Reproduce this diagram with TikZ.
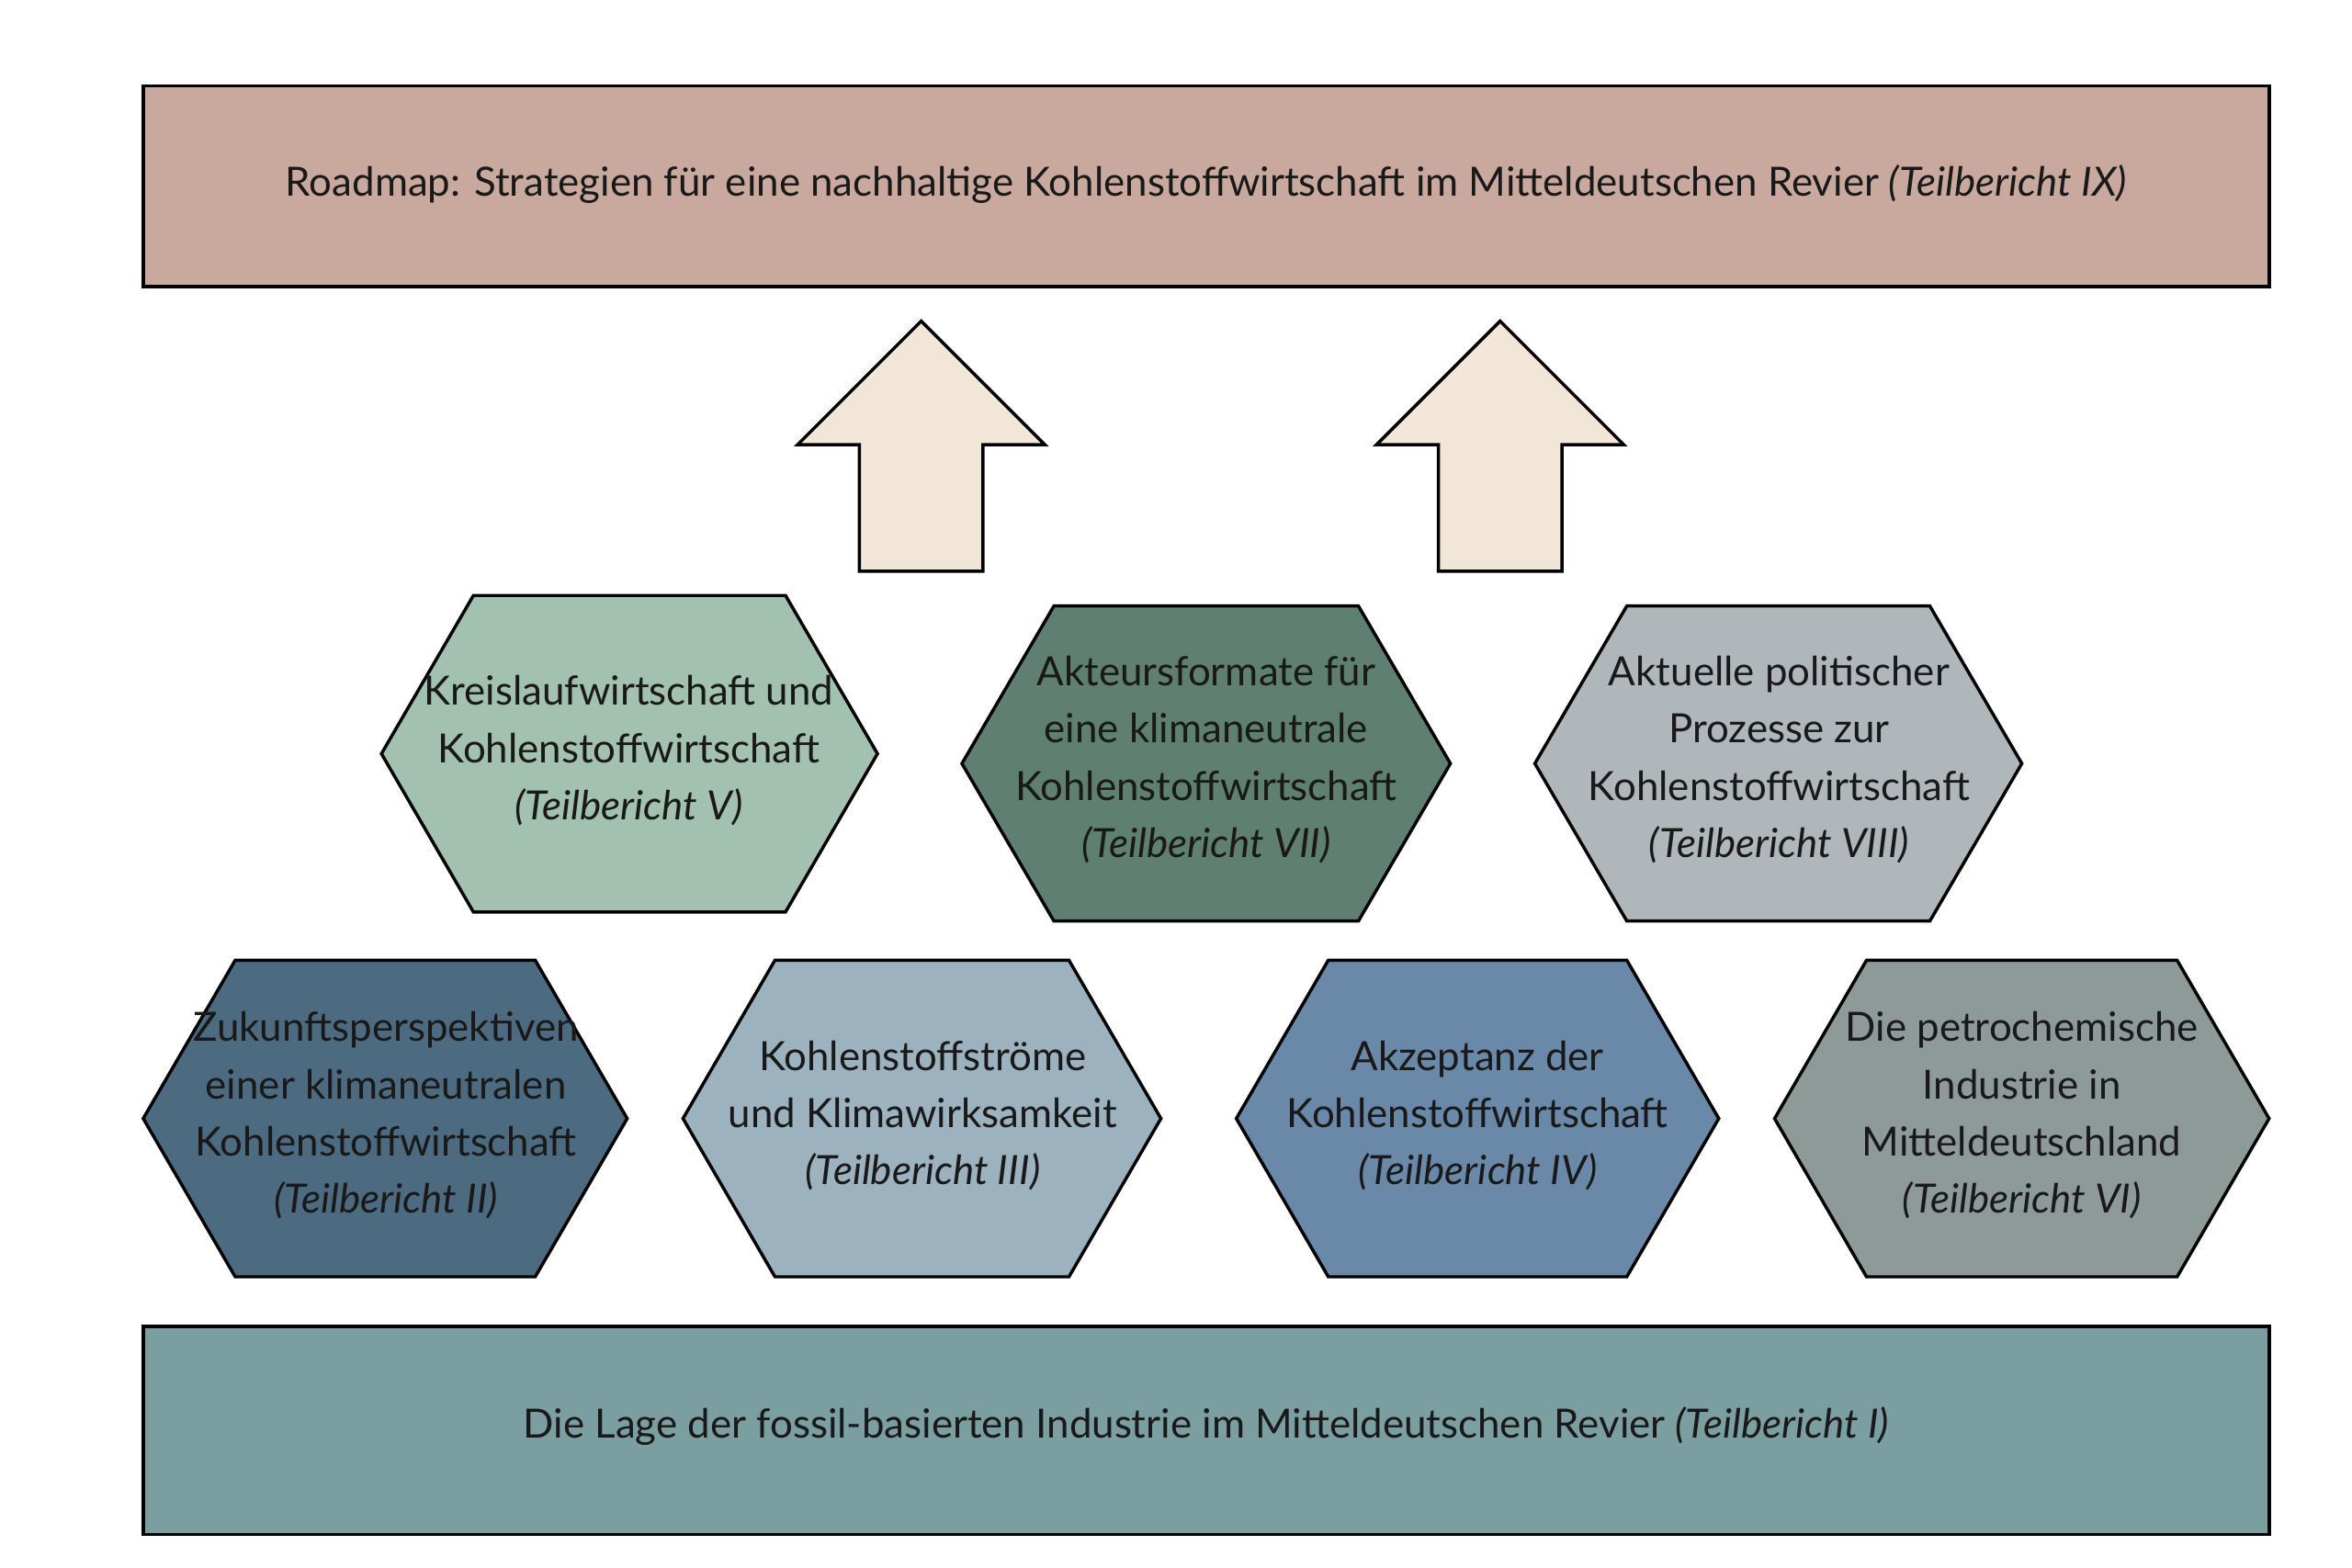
\documentclass[tikz,border=0pt]{standalone}
\usepackage{fontspec}
\setmainfont{Lato}
\definecolor{topc}{HTML}{C9A99E}
\definecolor{botc}{HTML}{7B9EA1}
\definecolor{arrowc}{HTML}{F2E6D8}
\definecolor{hv}{HTML}{A3C1B0}
\definecolor{hvii}{HTML}{5E7F71}
\definecolor{hviii}{HTML}{B0B7BA}
\definecolor{hii}{HTML}{4D6B80}
\definecolor{hiii}{HTML}{9CB2BF}
\definecolor{hiv}{HTML}{6A89A8}
\definecolor{hvi}{HTML}{8E9A98}
\newcommand\hexa[5]{\draw[box,fill=#5] (#1,{(#3+#4)/2}) -- (#1+61,#3) -- (#2-61,#3) -- (#2,{(#3+#4)/2}) -- (#2-61,#4) -- (#1+61,#4) -- cycle;}
\begin{document}
\begin{tikzpicture}[x=0.1mm,y=-0.1mm,
  box/.style={draw=black,line width=0.6pt},
  lbl/.style={align=center,font=\fontsize{7.6}{10.8}\selectfont,text=black!90},
  arr/.style={draw=black,line width=0.6pt,fill=arrowc}]
\useasboundingbox (0,0) rectangle (1560,1040);
\fill[white] (0,0) rectangle (1560,1040);
\draw[box,fill=topc] (95,57) rectangle (1505,190);
\node[lbl] (top) at (800,122) {Roadmap: Strategien für eine nachhaltige Kohlenstoffwirtschaft im Mitteldeutschen Revier \textit{(Teilbericht IX)}};
\draw[box,fill=botc] (95,880) rectangle (1505,1018);
\node[lbl] (bot) at (800,946) {Die Lage der fossil-basierten Industrie im Mitteldeutschen Revier \textit{(Teilbericht I)}};
\foreach \c in {611,995}{
 \draw[arr] (\c,213) -- (\c+82,295) -- (\c+41,295) -- (\c+41,379) -- (\c-41,379) -- (\c-41,295) -- (\c-82,295) -- cycle;}
\hexa{253}{582}{395}{605}{hv}
\hexa{638}{962}{402}{611}{hvii}
\hexa{1018}{1341}{402}{611}{hviii}
\hexa{95}{416}{637}{847}{hii}
\hexa{453}{770}{637}{847}{hiii}
\hexa{820}{1140}{637}{847}{hiv}
\hexa{1177}{1505}{637}{847}{hvi}
\node[lbl] (h5) at (417,498) {Kreislaufwirtschaft und\\Kohlenstoffwirtschaft\\\textit{(Teilbericht V)}};
\node[lbl] (h7) at (800,504) {Akteursformate für\\eine klimaneutrale\\Kohlenstoffwirtschaft\\\textit{(Teilbericht VII)}};
\node[lbl] (h8) at (1180,504) {Aktuelle politischer\\Prozesse zur\\Kohlenstoffwirtschaft\\\textit{(Teilbericht VIII)}};
\node[lbl] (h2) at (256,740) {Zukunftsperspektiven\\einer klimaneutralen\\Kohlenstoffwirtschaft\\\textit{(Teilbericht II)}};
\node[lbl] (h3) at (612,740) {Kohlenstoffströme\\und Klimawirksamkeit\\\textit{(Teilbericht III)}};
\node[lbl] (h4) at (980,740) {Akzeptanz der\\Kohlenstoffwirtschaft\\\textit{(Teilbericht IV)}};
\node[lbl] (h6) at (1341,740) {Die petrochemische\\Industrie in\\Mitteldeutschland\\\textit{(Teilbericht VI)}};
\end{tikzpicture}
\end{document}
